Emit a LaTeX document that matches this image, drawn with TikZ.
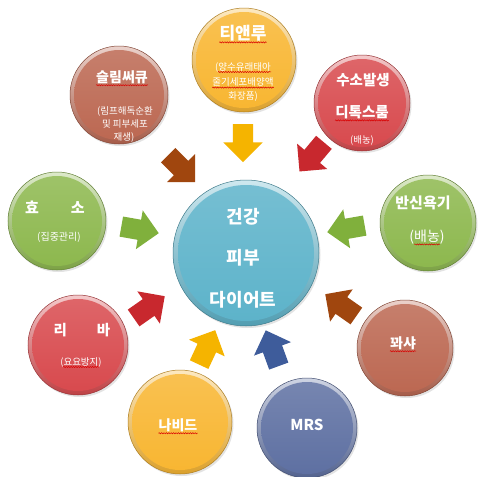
\documentclass[tikz,border=0pt]{standalone}
\usepackage{fontspec}
\newfontfamily\kr{Noto Sans CJK KR}
\usetikzlibrary{shapes.arrows,shadows,decorations.pathmorphing}
\definecolor{cYel}{HTML}{F8B632}
\definecolor{cRed}{HTML}{D84A4E}
\definecolor{cGrn}{HTML}{8DB84E}
\definecolor{cBrn}{HTML}{BC6852}
\definecolor{cBlu}{HTML}{5E70A2}
\definecolor{cTeal}{HTML}{5DB3CA}
\definecolor{aYel}{HTML}{F5B400}
\definecolor{aRed}{HTML}{C8282E}
\definecolor{aGrn}{HTML}{80B03C}
\definecolor{aBrn}{HTML}{A0460E}
\definecolor{aBlu}{HTML}{3E5C9B}
\tikzset{
 disc/.style={circle, inner sep=0pt, draw=#1!70!black, line width=0.5pt,
   top color=#1!30!white, bottom color=#1!88!black,
   drop shadow={opacity=0.22, shadow xshift=1.5pt, shadow yshift=-2pt}},
 face/.style={circle, inner sep=0pt, top color=#1!85!white, bottom color=#1},
 ttl/.style={font=\kr\bfseries\fontsize{#1}{#1}\selectfont, text=white, inner sep=0pt},
 sml/.style={font=\kr\fontsize{#1}{#1}\selectfont, text=white, inner sep=0pt},
 arw/.style={single arrow, fill=#1, draw=none, minimum height=38pt,
   single arrow head extend=9.5pt, single arrow tip angle=90, inner sep=0pt},
 squig/.style={draw=red!85!black, line width=0.5pt, decorate,
   decoration={snake, amplitude=0.6pt, segment length=2.4pt}}
}
\newcommand{\shaft}{\rule{0pt}{20pt}}
\begin{document}
\begin{tikzpicture}[x=1pt,y=-1pt]
\useasboundingbox[fill=white] (0,0) rectangle (480,477);

% arrows
\node[arw=aYel, rotate=-90] (ar1) at (243,138) {\shaft};
\node[arw=aRed, rotate=-130] (ar2) at (315,153) {\shaft};
\node[arw=aGrn, rotate=190] (ar3) at (351,228) {\shaft};
\node[arw=aBrn, rotate=145] (ar4) at (345,308) {\shaft};
\node[arw=aBlu, rotate=110] (ar5) at (274,353) {\shaft};
\node[arw=aYel, rotate=65] (ar6) at (205,352) {\shaft};
\node[arw=aRed, rotate=35] (ar7) at (145,310) {\shaft};
\node[arw=aGrn, rotate=-10] (ar8) at (135,229) {\shaft};
\node[arw=aBrn, rotate=-45] (ar9) at (178,165) {\shaft};

% center
\node[disc=cTeal, minimum size=146pt] (hub) at (246,253) {};
\node[face=cTeal, minimum size=136pt] (hubf) at (hub) {};
\node[ttl=18] (h1) at (243,217) {건강};
\node[ttl=18] (h2) at (243,258) {피부};
\node[ttl=18] (h3) at (243,300) {다이어트};

% top: 티앤루
\node[disc=cYel, minimum size=104pt] (tian) at (244,60) {};
\node[face=cYel, minimum size=96pt] (tianf) at (tian) {};
\node[ttl=17] (t1) at (243,33) {티앤루};
\node[sml=9.5] (t2) at (243,67) {(양수유래태아};
\node[sml=9.5] (t3) at (243,82) {줄기세포배양액};
\node[sml=9.5] (t4) at (243,97) {화장품)};
\draw[squig] ([yshift=-3pt]t1.base west) -- ([yshift=-3pt]t1.base east);
\draw[squig] ([yshift=-2pt,xshift=3pt]t2.base west) -- ([yshift=-2pt]t2.base east);
\draw[squig] ([yshift=-2pt]t3.base west) -- ([yshift=-2pt]t3.base east);

% top-left: 슬림써큐
\node[disc=cBrn, minimum size=98pt] (slim) at (119,95) {};
\node[face=cBrn, minimum size=90pt] (slimf) at (slim) {};
\node[ttl=14] (s1) at (122,77) {슬림써큐};
\node[sml=9.5] (s2) at (125,111) {(림프해독순환};
\node[sml=9.5] (s3) at (125,124) {및 피부세포};
\node[sml=9.5] (s4) at (124,137) {재생)};
\draw[squig] ([yshift=-3pt]s1.base west) -- ([yshift=-3pt]s1.base east);

% top-right: 수소발생 디톡스룸
\node[disc=cRed, minimum size=96pt] (hydro) at (362,103) {};
\node[face=cRed, minimum size=88pt] (hydrof) at (hydro) {};
\node[ttl=14.5] (d1) at (363,80) {수소발생};
\node[ttl=14.5] (d2) at (362,112) {디톡스룸};
\node[sml=9.5] (d3) at (362,140) {(배농)};
\draw[squig] ([yshift=-3pt]d2.base west) -- ([yshift=-3pt]d2.base east);

% left: 효소
\node[disc=cGrn, minimum size=98pt] (enz) at (57,221) {};
\node[face=cGrn, minimum size=90pt] (enzf) at (enz) {};
\node[ttl=15] (e1) at (55,207) {효\hspace{32pt}소};
\node[sml=10] (e2) at (59,237) {(집중관리)};

% right: 반신욕기
\node[disc=cGrn, minimum size=96pt] (bath) at (428,223) {};
\node[face=cGrn, minimum size=88pt] (bathf) at (bath) {};
\node[ttl=15] (b1) at (423,203) {반신욕기};
\node[sml=14] (b2) at (427,237) {(배농)};
\draw[squig] ([yshift=-3pt,xshift=5pt]b2.base west) -- ([yshift=-3pt,xshift=-5pt]b2.base east);

% lower-left: 리바
\node[disc=cRed, minimum size=100pt] (riba) at (78,345) {};
\node[face=cRed, minimum size=92pt] (ribaf) at (riba) {};
\node[ttl=14.5] (r1) at (82,330) {리\hspace{30pt}바};
\node[sml=9.5] (r2) at (81,362) {(요요방지)};
\draw[squig] ([yshift=-2pt,xshift=3pt]r2.base west) -- ([yshift=-2pt,xshift=-3pt]r2.base east);

% lower-right: 꽈샤
\node[disc=cBrn, minimum size=96pt] (gua) at (405,348) {};
\node[face=cBrn, minimum size=88pt] (guaf) at (gua) {};
\node[ttl=14] (g1) at (403,343) {꽈샤};
\draw[squig] ([yshift=-3pt]g1.base west) -- ([yshift=-3pt]g1.base east);

% bottom-left: 나비드
\node[disc=cYel, minimum size=104pt] (navi) at (180,422) {};
\node[face=cYel, minimum size=96pt] (navif) at (navi) {};
\node[ttl=14] (n1) at (178,425) {나비드};
\draw[squig] ([yshift=-3pt]n1.base west) -- ([yshift=-3pt]n1.base east);

% bottom: MRS
\node[disc=cBlu, minimum size=100pt] (mrs) at (307,428) {};
\node[face=cBlu, minimum size=92pt] (mrsf) at (mrs) {};
\node[ttl=15] (m1) at (307,425) {MRS};
\end{tikzpicture}
\end{document}
